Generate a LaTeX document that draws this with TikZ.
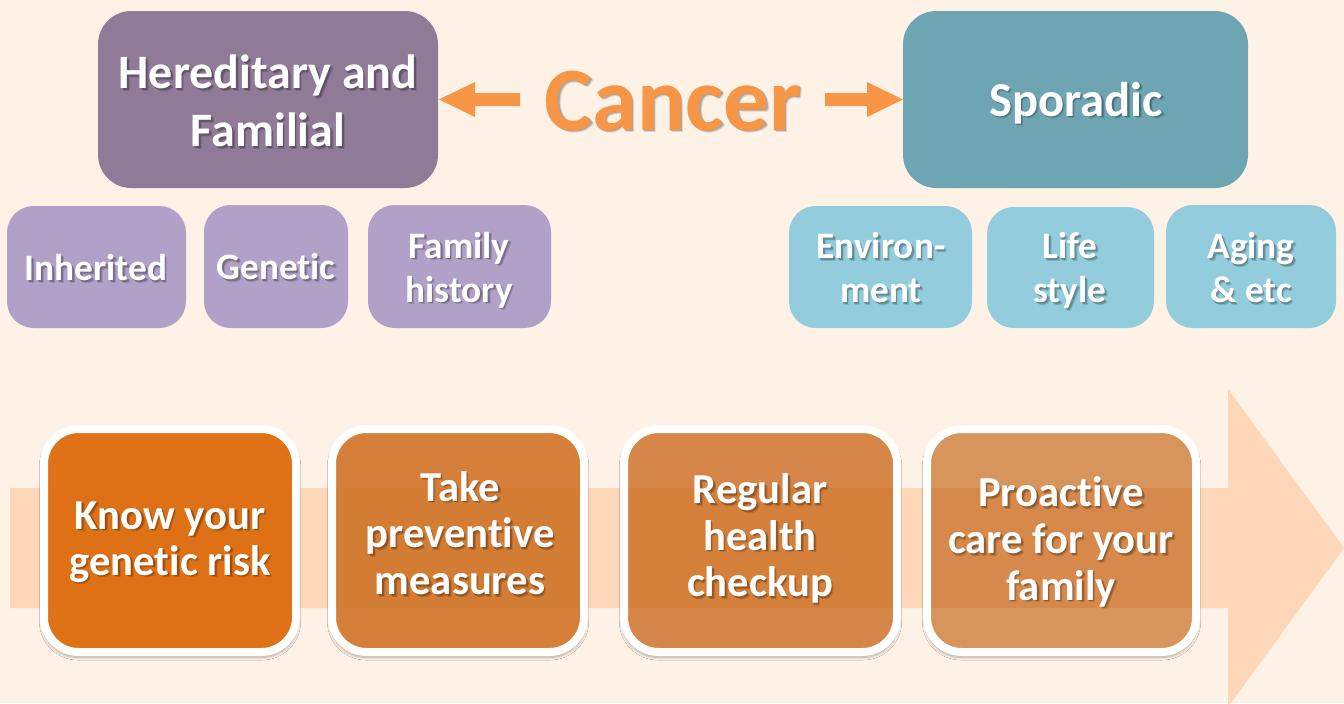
\documentclass[tikz,border=0pt]{standalone}
\usepackage{fontspec}
\setmainfont[Ligatures=CommonOff]{Carlito}
\usetikzlibrary{shadows.blur,calc}
\definecolor{bgc}{HTML}{FEF2E6}
\definecolor{purD}{HTML}{8F7A98}
\definecolor{purL}{HTML}{B1A1C8}
\definecolor{teaD}{HTML}{6DA5B3}
\definecolor{teaL}{HTML}{93CDDD}
\definecolor{arr}{HTML}{FDD7B7}
\definecolor{orgA}{HTML}{DF7116}
\definecolor{orgAi}{HTML}{DE7015}
\definecolor{orgBo}{HTML}{D57F3B}
\definecolor{orgBi}{HTML}{D37C33}
\definecolor{orgCo}{HTML}{D58648}
\definecolor{orgCi}{HTML}{D5803A}
\definecolor{orgDo}{HTML}{D8955B}
\definecolor{orgDi}{HTML}{D6894A}
\definecolor{cantxt}{HTML}{F79646}
\tikzset{x=0.75pt,y=-0.75pt,
 lab/.style 2 args={inner sep=0,align=center,text=white,font=\bfseries\fontsize{#1}{#2}\selectfont},
 flow/.style={draw=white,line width=6pt,rounded corners=26pt},
 flowsh/.style={fill=white,rounded corners=27pt,blur shadow={shadow blur steps=8,shadow xshift=0pt,shadow yshift=-2.5pt,shadow opacity=30,shadow blur radius=2pt}},
 bigbox/.style={rounded corners=25pt},
 smallbox/.style={rounded corners=20pt}}
% text with a soft drop shadow: name, position, size, leading, colour, text
\newcommand{\shnode}[6]{%
  \node[lab={#3}{#4},text=black,opacity=.12] at ($(#2)+(2.6,2.6)$) {#6};
  \node[lab={#3}{#4},text=black,opacity=.22] at ($(#2)+(1.6,1.6)$) {#6};
  \node[lab={#3}{#4},text=#5] (#1) at (#2) {#6};}
\newcommand{\flowbox}[6]{%
  \path[flowsh] ($(#1,#2)+(-2,-2)$) rectangle ($(#3,#4)+(2,2)$);
  \fill[#5,rounded corners=26pt] (#1,#2) rectangle (#3,#4);
  \begin{scope}
    \clip[rounded corners=26pt] (#1,#2) rectangle (#3,#4);
    \fill[#6] (#1,488) rectangle (#3,608);
  \end{scope}
  \path[flow] (#1,#2) rectangle (#3,#4);}
\begin{document}
\begin{tikzpicture}
\useasboundingbox (0,0) rectangle (1344,703);
\fill[bgc] (0,0) rectangle (1344,703);
% big arrow
\fill[arr] (10,488) -- (1228,488) -- (1228,389) -- (1344,548) -- (1228,707) -- (1228,608) -- (10,608) -- cycle;
% top boxes
\path[fill=purD,bigbox] (98,11) rectangle (438,188);
\path[fill=teaD,bigbox] (903,11) rectangle (1248,188);
\shnode{her}{268,101}{36}{43.5}{white}{Hereditary and\\Familial}
\shnode{spo}{1076,103}{36.5}{44}{white}{Sporadic}
\shnode{can}{673,101}{68}{68}{cantxt}{Cancer}
\fill[cantxt] (520,93) -- (475,93) -- (475,82) -- (439,99.5) -- (475,117) -- (475,106) -- (520,106) -- cycle;
\fill[cantxt] (825,93) -- (867,93) -- (867,82) -- (903,99.5) -- (867,117) -- (867,106) -- (825,106) -- cycle;
% small boxes
\path[fill=purL,smallbox] (7,206) rectangle (186,328);
\path[fill=purL,smallbox] (204,205) rectangle (348,328);
\path[fill=purL,smallbox] (368,205) rectangle (551,328);
\path[fill=teaL,smallbox] (789,206) rectangle (972,328);
\path[fill=teaL,smallbox] (987,207) rectangle (1154,328);
\path[fill=teaL,smallbox] (1166,205) rectangle (1336,328);
\shnode{a1}{96,268}{28}{33}{white}{Inherited}
\shnode{a2}{276,267}{28}{33}{white}{Genetic}
\shnode{a3}{459,270}{28}{33}{white}{Family\\history}
\shnode{b1}{881,268}{28}{33}{white}{Environ-\\ment}
\shnode{b2}{1070,270.5}{28}{33}{white}{Life\\style}
\shnode{b3}{1251,268}{28}{33}{white}{Aging\\\&\ etc}
% flow
\flowbox{44}{429}{296}{652}{orgA}{orgAi}
\flowbox{332}{429}{584}{652}{orgBo}{orgBi}
\flowbox{624}{429}{897}{652}{orgCo}{orgCi}
\flowbox{927}{429}{1196}{652}{orgDo}{orgDi}
\shnode{f1}{170,542}{32}{34.5}{white}{Know your\\genetic risk}
\shnode{f2}{460,533}{32}{35}{white}{Take\\preventive\\measures}
\shnode{f3}{760,538.5}{32}{35}{white}{Regular\\health\\checkup}
\shnode{f4}{1061,542}{32}{35}{white}{Proactive\\care for your\\family}
\end{tikzpicture}
\end{document}
